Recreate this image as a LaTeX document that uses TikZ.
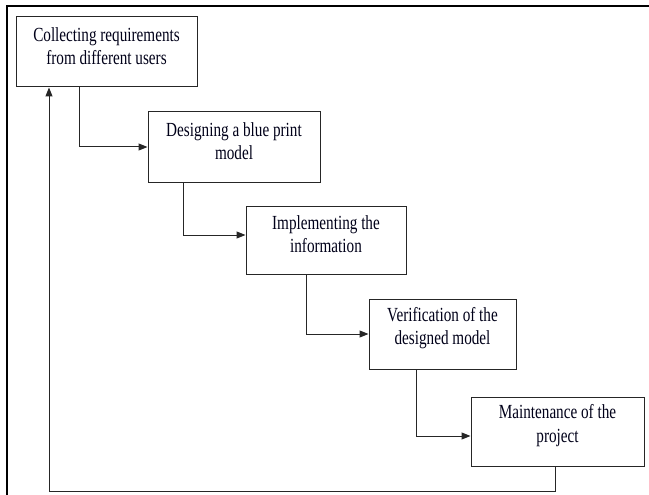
\documentclass[tikz,border=0pt]{standalone}
\usepackage{fontspec}
\setmainfont[FakeStretch=0.76]{Liberation Serif}
\usetikzlibrary{arrows.meta}
\begin{document}
\begin{tikzpicture}[x=1pt,y=-1pt,
  stagebox/.style={draw=black!85, line width=1pt, inner sep=0pt},
  stagetext/.style={align=center, font=\fontsize{20}{23.3}\selectfont, text=black!90!blue, inner sep=0pt},
  arr/.style={draw=black!85, line width=1pt, -{Triangle[length=9pt,width=7pt]}}]
\useasboundingbox (0,0) rectangle (649,495);
\fill[white] (0,0) rectangle (649,495);
% outer frame
\draw[line width=2.6pt] (7,495) -- (7,6) -- (649,6);
% boxes
\node[stagebox, minimum width=181pt, minimum height=70pt] (b1) at (106.5,52) {};
\node[stagebox, minimum width=172pt, minimum height=70pt] (b2) at (234,147) {};
\node[stagebox, minimum width=160pt, minimum height=68pt] (b3) at (326,240) {};
\node[stagebox, minimum width=147pt, minimum height=70pt] (b4) at (442.5,334) {};
\node[stagebox, minimum width=173pt, minimum height=69pt] (b5) at (557.5,431.5) {};
% texts
\node[stagetext] (t1) at ([yshift=6pt]b1.center) {Collecting requirements\\from different users};
\node[stagetext] (t2) at ([yshift=6pt]b2.center) {Designing a blue print\\model};
\node[stagetext] (t3) at ([yshift=6pt]b3.center) {Implementing the\\information};
\node[stagetext] (t4) at ([yshift=6pt]b4.center) {Verification of the\\designed model};
\node[stagetext] (t5) at ([yshift=6pt]b5.center) {Maintenance of the\\project};
% connectors
\draw[arr] ([xshift=-27.5pt]b1.south) |- (b2.west);
\draw[arr] ([xshift=-51pt]b2.south) |- ([yshift=5pt]b3.west);
\draw[arr] ([xshift=-20pt]b3.south) |- (b4.west);
\draw[arr] ([xshift=-26.5pt]b4.south) |- ([yshift=-4.5pt]b5.west);
\coordinate (fb) at (49,491);
\draw[arr] ([xshift=-2.5pt]b5.south) |- (fb) -- (fb |- b1.south);
\end{tikzpicture}
\end{document}
